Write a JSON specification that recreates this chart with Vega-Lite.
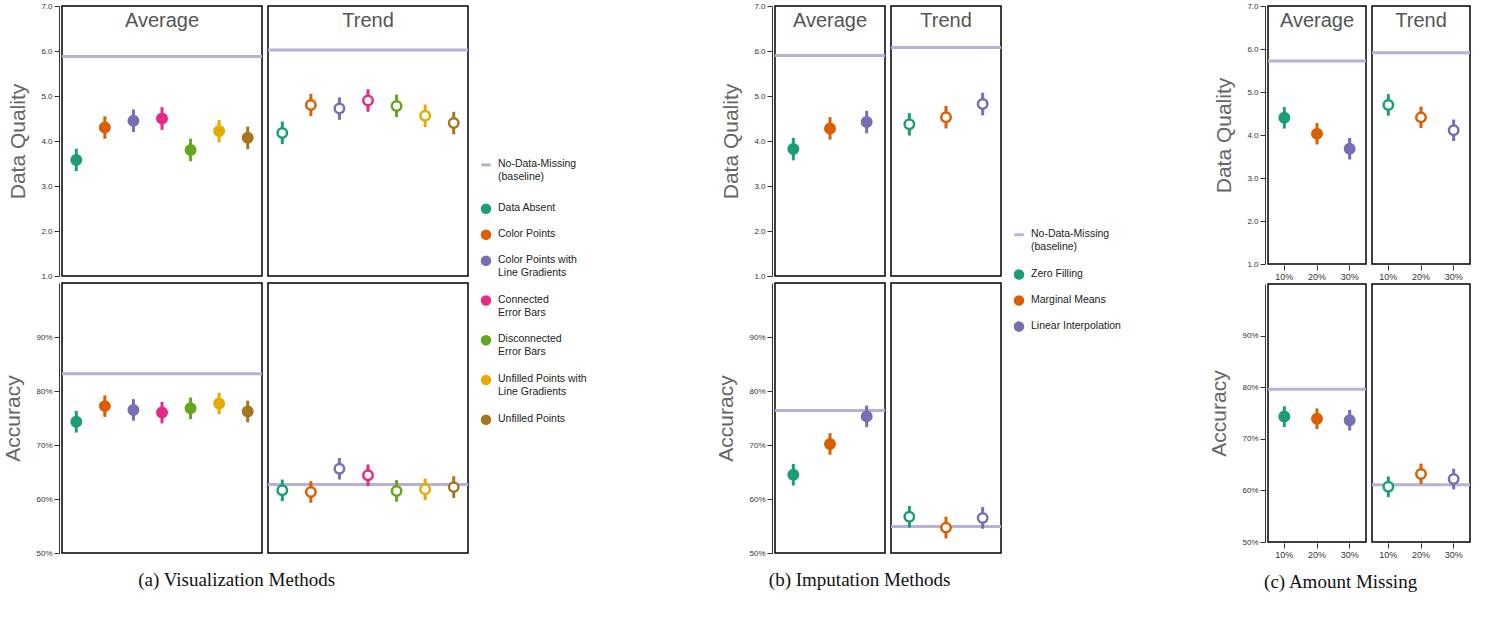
{
  "$schema": "https://vega.github.io/schema/vega-lite/v6.json",
  "padding": {"left": 2, "top": 2, "right": 2, "bottom": 2},
  "config": {
    "font": "Liberation Sans",
    "view": {"stroke": "black", "strokeWidth": 1.5},
    "facet": {"spacing": 0},
    "axis": {"labelFontSize": 8, "labelColor": "#333", "tickColor": "#333", "domainColor": "#333", "grid": false, "titleFontSize": 21, "titleFontWeight": "normal", "titleColor": "#666", "titlePadding": 12},
    "title": {"font": "Liberation Serif", "fontSize": 19, "fontWeight": "normal", "orient": "bottom", "anchor": "middle", "offset": 14, "color": "#111"}
  },
  "datasets": {
    "a": [
      {"metric": "DQ", "panel": "Average", "m": "Data Absent", "v": 3.58, "lo": 3.33, "hi": 3.83, "base": 5.88},
      {"metric": "DQ", "panel": "Average", "m": "Color Points", "v": 4.3, "lo": 4.05, "hi": 4.55, "base": 5.88},
      {"metric": "DQ", "panel": "Average", "m": "Color Points with Line Gradients", "v": 4.45, "lo": 4.2, "hi": 4.7, "base": 5.88},
      {"metric": "DQ", "panel": "Average", "m": "Connected Error Bars", "v": 4.5, "lo": 4.25, "hi": 4.75, "base": 5.88},
      {"metric": "DQ", "panel": "Average", "m": "Disconnected Error Bars", "v": 3.8, "lo": 3.55, "hi": 4.05, "base": 5.88},
      {"metric": "DQ", "panel": "Average", "m": "Unfilled Points with Line Gradients", "v": 4.22, "lo": 3.97, "hi": 4.47, "base": 5.88},
      {"metric": "DQ", "panel": "Average", "m": "Unfilled Points", "v": 4.07, "lo": 3.82, "hi": 4.32, "base": 5.88},
      {"metric": "DQ", "panel": "Trend", "m": "Data Absent", "v": 4.18, "lo": 3.93, "hi": 4.43, "base": 6.02},
      {"metric": "DQ", "panel": "Trend", "m": "Color Points", "v": 4.8, "lo": 4.55, "hi": 5.05, "base": 6.02},
      {"metric": "DQ", "panel": "Trend", "m": "Color Points with Line Gradients", "v": 4.72, "lo": 4.47, "hi": 4.97, "base": 6.02},
      {"metric": "DQ", "panel": "Trend", "m": "Connected Error Bars", "v": 4.9, "lo": 4.65, "hi": 5.15, "base": 6.02},
      {"metric": "DQ", "panel": "Trend", "m": "Disconnected Error Bars", "v": 4.78, "lo": 4.53, "hi": 5.03, "base": 6.02},
      {"metric": "DQ", "panel": "Trend", "m": "Unfilled Points with Line Gradients", "v": 4.56, "lo": 4.31, "hi": 4.81, "base": 6.02},
      {"metric": "DQ", "panel": "Trend", "m": "Unfilled Points", "v": 4.4, "lo": 4.15, "hi": 4.65, "base": 6.02},
      {"metric": "AC", "panel": "Average", "m": "Data Absent", "v": 0.743, "lo": 0.723, "hi": 0.763, "base": 0.832},
      {"metric": "AC", "panel": "Average", "m": "Color Points", "v": 0.772, "lo": 0.752, "hi": 0.792, "base": 0.832},
      {"metric": "AC", "panel": "Average", "m": "Color Points with Line Gradients", "v": 0.765, "lo": 0.745, "hi": 0.785, "base": 0.832},
      {"metric": "AC", "panel": "Average", "m": "Connected Error Bars", "v": 0.76, "lo": 0.74, "hi": 0.78, "base": 0.832},
      {"metric": "AC", "panel": "Average", "m": "Disconnected Error Bars", "v": 0.768, "lo": 0.748, "hi": 0.788, "base": 0.832},
      {"metric": "AC", "panel": "Average", "m": "Unfilled Points with Line Gradients", "v": 0.777, "lo": 0.757, "hi": 0.797, "base": 0.832},
      {"metric": "AC", "panel": "Average", "m": "Unfilled Points", "v": 0.762, "lo": 0.742, "hi": 0.782, "base": 0.832},
      {"metric": "AC", "panel": "Trend", "m": "Data Absent", "v": 0.616, "lo": 0.596, "hi": 0.636, "base": 0.627},
      {"metric": "AC", "panel": "Trend", "m": "Color Points", "v": 0.613, "lo": 0.593, "hi": 0.633, "base": 0.627},
      {"metric": "AC", "panel": "Trend", "m": "Color Points with Line Gradients", "v": 0.656, "lo": 0.636, "hi": 0.676, "base": 0.627},
      {"metric": "AC", "panel": "Trend", "m": "Connected Error Bars", "v": 0.644, "lo": 0.624, "hi": 0.664, "base": 0.627},
      {"metric": "AC", "panel": "Trend", "m": "Disconnected Error Bars", "v": 0.615, "lo": 0.595, "hi": 0.635, "base": 0.627},
      {"metric": "AC", "panel": "Trend", "m": "Unfilled Points with Line Gradients", "v": 0.618, "lo": 0.598, "hi": 0.638, "base": 0.627},
      {"metric": "AC", "panel": "Trend", "m": "Unfilled Points", "v": 0.622, "lo": 0.602, "hi": 0.642, "base": 0.627}
    ],
    "b": [
      {"metric": "DQ", "panel": "Average", "m": "Zero Filling", "v": 3.82, "lo": 3.57, "hi": 4.07, "base": 5.9},
      {"metric": "DQ", "panel": "Average", "m": "Marginal Means", "v": 4.28, "lo": 4.03, "hi": 4.53, "base": 5.9},
      {"metric": "DQ", "panel": "Average", "m": "Linear Interpolation", "v": 4.42, "lo": 4.17, "hi": 4.67, "base": 5.9},
      {"metric": "DQ", "panel": "Trend", "m": "Zero Filling", "v": 4.37, "lo": 4.12, "hi": 4.62, "base": 6.08},
      {"metric": "DQ", "panel": "Trend", "m": "Marginal Means", "v": 4.53, "lo": 4.28, "hi": 4.78, "base": 6.08},
      {"metric": "DQ", "panel": "Trend", "m": "Linear Interpolation", "v": 4.82, "lo": 4.57, "hi": 5.07, "base": 6.08},
      {"metric": "AC", "panel": "Average", "m": "Zero Filling", "v": 0.645, "lo": 0.625, "hi": 0.665, "base": 0.764},
      {"metric": "AC", "panel": "Average", "m": "Marginal Means", "v": 0.702, "lo": 0.682, "hi": 0.722, "base": 0.764},
      {"metric": "AC", "panel": "Average", "m": "Linear Interpolation", "v": 0.753, "lo": 0.733, "hi": 0.773, "base": 0.764},
      {"metric": "AC", "panel": "Trend", "m": "Zero Filling", "v": 0.567, "lo": 0.547, "hi": 0.587, "base": 0.549},
      {"metric": "AC", "panel": "Trend", "m": "Marginal Means", "v": 0.547, "lo": 0.527, "hi": 0.567, "base": 0.549},
      {"metric": "AC", "panel": "Trend", "m": "Linear Interpolation", "v": 0.565, "lo": 0.545, "hi": 0.585, "base": 0.549}
    ],
    "c": [
      {"metric": "DQ", "panel": "Average", "m": "10%", "v": 4.4, "lo": 4.15, "hi": 4.65, "base": 5.72},
      {"metric": "DQ", "panel": "Average", "m": "20%", "v": 4.03, "lo": 3.78, "hi": 4.28, "base": 5.72},
      {"metric": "DQ", "panel": "Average", "m": "30%", "v": 3.68, "lo": 3.43, "hi": 3.93, "base": 5.72},
      {"metric": "DQ", "panel": "Trend", "m": "10%", "v": 4.7, "lo": 4.45, "hi": 4.95, "base": 5.91},
      {"metric": "DQ", "panel": "Trend", "m": "20%", "v": 4.41, "lo": 4.16, "hi": 4.66, "base": 5.91},
      {"metric": "DQ", "panel": "Trend", "m": "30%", "v": 4.11, "lo": 3.86, "hi": 4.36, "base": 5.91},
      {"metric": "AC", "panel": "Average", "m": "10%", "v": 0.743, "lo": 0.723, "hi": 0.763, "base": 0.796},
      {"metric": "AC", "panel": "Average", "m": "20%", "v": 0.739, "lo": 0.719, "hi": 0.759, "base": 0.796},
      {"metric": "AC", "panel": "Average", "m": "30%", "v": 0.736, "lo": 0.716, "hi": 0.756, "base": 0.796},
      {"metric": "AC", "panel": "Trend", "m": "10%", "v": 0.607, "lo": 0.587, "hi": 0.627, "base": 0.611},
      {"metric": "AC", "panel": "Trend", "m": "20%", "v": 0.632, "lo": 0.612, "hi": 0.652, "base": 0.611},
      {"metric": "AC", "panel": "Trend", "m": "30%", "v": 0.622, "lo": 0.602, "hi": 0.642, "base": 0.611}
    ],
    "la": [
      {"kind": "base", "label": "No-Data-Missing\n(baseline)", "pos": 5.8},
      {"kind": "pt", "label": "Data Absent", "pos": 7.4},
      {"kind": "pt", "label": "Color Points", "pos": 8.35},
      {"kind": "pt", "label": "Color Points with\nLine Gradients", "pos": 9.3},
      {"kind": "pt", "label": "Connected\nError Bars", "pos": 10.75},
      {"kind": "pt", "label": "Disconnected\nError Bars", "pos": 12.2},
      {"kind": "pt", "label": "Unfilled Points with\nLine Gradients", "pos": 13.65},
      {"kind": "pt", "label": "Unfilled Points", "pos": 15.1}
    ],
    "lb": [
      {"kind": "base", "label": "No-Data-Missing\n(baseline)", "pos": 8.35},
      {"kind": "pt", "label": "Zero Filling", "pos": 9.8},
      {"kind": "pt", "label": "Marginal Means", "pos": 10.75},
      {"kind": "pt", "label": "Linear Interpolation", "pos": 11.7}
    ]
  },
  "hconcat": [
    {
      "title": "(a)  Visualization Methods",
      "vconcat": [
        {
          "data": {"name": "a"},
          "transform": [{"filter": "datum.metric === 'DQ'"}],
          "facet": {"column": {"field": "panel", "type": "nominal", "sort": ["Average", "Trend"], "title": null, "header": {"labelFontSize": 20, "labelColor": "#555", "labelPadding": -26}}},
          "spacing": {"column": 0, "row": 0},
          "spec": {
            "width": 200, "height": 270,
            "layer": [
              {"mark": {"type": "rule", "color": "#b8b0d8", "strokeWidth": 3}, "encoding": {"y": {"aggregate": "mean", "field": "base", "type": "quantitative", "title": "Data Quality", "scale": {"domain": [1, 7]}, "axis": {"values": [1, 2, 3, 4, 5, 6, 7], "format": ".1f"}}}},
              {"mark": {"type": "rule", "strokeWidth": 3}, "encoding": {"x": {"field": "m", "type": "nominal", "sort": null, "axis": null}, "y": {"field": "lo", "type": "quantitative", "title": "Data Quality"}, "y2": {"field": "hi"}, "color": {"field": "m", "type": "nominal", "sort": null, "scale": {"domain": ["Data Absent", "Color Points", "Color Points with Line Gradients", "Connected Error Bars", "Disconnected Error Bars", "Unfilled Points with Line Gradients", "Unfilled Points"], "range": ["#1b9e77", "#d95f02", "#7570b3", "#e7298a", "#66a61e", "#e6ab02", "#a6761d"]}, "legend": null}}},
              {"mark": {"type": "point", "shape": "circle", "size": 90, "strokeWidth": 2.5, "opacity": 1}, "encoding": {"x": {"field": "m", "type": "nominal", "sort": null, "axis": null}, "y": {"field": "v", "type": "quantitative", "title": "Data Quality"}, "color": {"field": "m", "type": "nominal", "legend": null}, "fill": {"condition": {"test": "datum.panel === 'Trend'", "value": "white"}, "field": "m", "type": "nominal", "scale": {"domain": ["Data Absent", "Color Points", "Color Points with Line Gradients", "Connected Error Bars", "Disconnected Error Bars", "Unfilled Points with Line Gradients", "Unfilled Points"], "range": ["#1b9e77", "#d95f02", "#7570b3", "#e7298a", "#66a61e", "#e6ab02", "#a6761d"]}, "legend": null}}}
            ]
          }
        },
        {
          "data": {"name": "a"},
          "transform": [{"filter": "datum.metric === 'AC'"}],
          "facet": {"column": {"field": "panel", "type": "nominal", "sort": ["Average", "Trend"], "title": null, "header": {"labels": false}}},
          "spacing": {"column": 0, "row": 0},
          "spec": {
            "width": 200, "height": 270,
            "layer": [
              {"mark": {"type": "rule", "color": "#b8b0d8", "strokeWidth": 3}, "encoding": {"y": {"aggregate": "mean", "field": "base", "type": "quantitative", "title": "Accuracy", "scale": {"domain": [0.5, 1]}, "axis": {"values": [0.5, 0.6, 0.7, 0.8, 0.9], "format": ".0%"}}}},
              {"mark": {"type": "rule", "strokeWidth": 3}, "encoding": {"x": {"field": "m", "type": "nominal", "sort": null, "axis": null}, "y": {"field": "lo", "type": "quantitative", "title": "Accuracy"}, "y2": {"field": "hi"}, "color": {"field": "m", "type": "nominal", "sort": null, "legend": null}}},
              {"mark": {"type": "point", "shape": "circle", "size": 90, "strokeWidth": 2.5, "opacity": 1}, "encoding": {"x": {"field": "m", "type": "nominal", "sort": null, "axis": null}, "y": {"field": "v", "type": "quantitative", "title": "Accuracy"}, "color": {"field": "m", "type": "nominal", "legend": null}, "fill": {"condition": {"test": "datum.panel === 'Trend'", "value": "white"}, "field": "m", "type": "nominal", "legend": null}}}
            ]
          }
        }
      ],
      "spacing": 2
    },
    {
      "data": {"name": "la"},
      "width": 225, "height": 548,
      "view": {"stroke": null},
      "encoding": {
        "x": {"datum": 0, "type": "quantitative", "scale": {"domain": [0, 10]}, "axis": null},
        "y": {"field": "pos", "type": "quantitative", "scale": {"domain": [0, 20], "reverse": true}, "axis": null}
      },
      "layer": [
        {"transform": [{"filter": "datum.kind === 'pt'"}], "mark": {"type": "point", "shape": "circle", "filled": true, "size": 110, "opacity": 1}, "encoding": {"color": {"field": "label", "type": "nominal", "sort": null, "scale": {"range": ["#1b9e77", "#d95f02", "#7570b3", "#e7298a", "#66a61e", "#e6ab02", "#a6761d"]}, "legend": null}}},
        {"transform": [{"filter": "datum.kind === 'base'"}], "mark": {"type": "point", "shape": "M-1,0L1,0", "filled": false, "size": 90, "stroke": "#b8b0d8", "strokeWidth": 3, "opacity": 1}},
        {"mark": {"type": "text", "align": "left", "baseline": "top", "dx": 12, "dy": -6, "fontSize": 10.5, "lineBreak": "\n", "lineHeight": 13, "color": "#222"}, "encoding": {"text": {"field": "label"}}}
      ]
    },
    {
      "title": "(b)  Imputation Methods",
      "vconcat": [
        {
          "data": {"name": "b"},
          "transform": [{"filter": "datum.metric === 'DQ'"}],
          "facet": {"column": {"field": "panel", "type": "nominal", "sort": ["Average", "Trend"], "title": null, "header": {"labelFontSize": 20, "labelColor": "#555", "labelPadding": -26}}},
          "spacing": {"column": 0, "row": 0},
          "spec": {
            "width": 110, "height": 270,
            "layer": [
              {"mark": {"type": "rule", "color": "#b8b0d8", "strokeWidth": 3}, "encoding": {"y": {"aggregate": "mean", "field": "base", "type": "quantitative", "title": "Data Quality", "scale": {"domain": [1, 7]}, "axis": {"values": [1, 2, 3, 4, 5, 6, 7], "format": ".1f"}}}},
              {"mark": {"type": "rule", "strokeWidth": 3}, "encoding": {"x": {"field": "m", "type": "nominal", "sort": null, "axis": null}, "y": {"field": "lo", "type": "quantitative", "title": "Data Quality"}, "y2": {"field": "hi"}, "color": {"field": "m", "type": "nominal", "sort": null, "scale": {"domain": ["Zero Filling", "Marginal Means", "Linear Interpolation"], "range": ["#1b9e77", "#d95f02", "#7570b3"]}, "legend": null}}},
              {"mark": {"type": "point", "shape": "circle", "size": 90, "strokeWidth": 2.5, "opacity": 1}, "encoding": {"x": {"field": "m", "type": "nominal", "sort": null, "axis": null}, "y": {"field": "v", "type": "quantitative", "title": "Data Quality"}, "color": {"field": "m", "type": "nominal", "legend": null}, "fill": {"condition": {"test": "datum.panel === 'Trend'", "value": "white"}, "field": "m", "type": "nominal", "scale": {"domain": ["Zero Filling", "Marginal Means", "Linear Interpolation"], "range": ["#1b9e77", "#d95f02", "#7570b3"]}, "legend": null}}}
            ]
          }
        },
        {
          "data": {"name": "b"},
          "transform": [{"filter": "datum.metric === 'AC'"}],
          "facet": {"column": {"field": "panel", "type": "nominal", "sort": ["Average", "Trend"], "title": null, "header": {"labels": false}}},
          "spacing": {"column": 0, "row": 0},
          "spec": {
            "width": 110, "height": 270,
            "layer": [
              {"mark": {"type": "rule", "color": "#b8b0d8", "strokeWidth": 3}, "encoding": {"y": {"aggregate": "mean", "field": "base", "type": "quantitative", "title": "Accuracy", "scale": {"domain": [0.5, 1]}, "axis": {"values": [0.5, 0.6, 0.7, 0.8, 0.9], "format": ".0%"}}}},
              {"mark": {"type": "rule", "strokeWidth": 3}, "encoding": {"x": {"field": "m", "type": "nominal", "sort": null, "axis": null}, "y": {"field": "lo", "type": "quantitative", "title": "Accuracy"}, "y2": {"field": "hi"}, "color": {"field": "m", "type": "nominal", "sort": null, "legend": null}}},
              {"mark": {"type": "point", "shape": "circle", "size": 90, "strokeWidth": 2.5, "opacity": 1}, "encoding": {"x": {"field": "m", "type": "nominal", "sort": null, "axis": null}, "y": {"field": "v", "type": "quantitative", "title": "Accuracy"}, "color": {"field": "m", "type": "nominal", "legend": null}, "fill": {"condition": {"test": "datum.panel === 'Trend'", "value": "white"}, "field": "m", "type": "nominal", "legend": null}}}
            ]
          }
        }
      ],
      "spacing": 2
    },
    {
      "data": {"name": "lb"},
      "width": 185, "height": 548,
      "view": {"stroke": null},
      "encoding": {
        "x": {"datum": 0, "type": "quantitative", "scale": {"domain": [0, 10]}, "axis": null},
        "y": {"field": "pos", "type": "quantitative", "scale": {"domain": [0, 20], "reverse": true}, "axis": null}
      },
      "layer": [
        {"transform": [{"filter": "datum.kind === 'pt'"}], "mark": {"type": "point", "shape": "circle", "filled": true, "size": 110, "opacity": 1}, "encoding": {"color": {"field": "label", "type": "nominal", "sort": null, "scale": {"range": ["#1b9e77", "#d95f02", "#7570b3"]}, "legend": null}}},
        {"transform": [{"filter": "datum.kind === 'base'"}], "mark": {"type": "point", "shape": "M-1,0L1,0", "filled": false, "size": 90, "stroke": "#b8b0d8", "strokeWidth": 3, "opacity": 1}},
        {"mark": {"type": "text", "align": "left", "baseline": "top", "dx": 12, "dy": -6, "fontSize": 10.5, "lineBreak": "\n", "lineHeight": 13, "color": "#222"}, "encoding": {"text": {"field": "label"}}}
      ]
    },
    {
      "title": "(c)  Amount Missing",
      "vconcat": [
        {
          "data": {"name": "c"},
          "transform": [{"filter": "datum.metric === 'DQ'"}],
          "facet": {"column": {"field": "panel", "type": "nominal", "sort": ["Average", "Trend"], "title": null, "header": {"labelFontSize": 20, "labelColor": "#555", "labelPadding": -26}}},
          "spacing": {"column": 0, "row": 0},
          "spec": {
            "width": 98, "height": 258,
            "layer": [
              {"mark": {"type": "rule", "color": "#b8b0d8", "strokeWidth": 3}, "encoding": {"y": {"aggregate": "mean", "field": "base", "type": "quantitative", "title": "Data Quality", "scale": {"domain": [1, 7]}, "axis": {"values": [1, 2, 3, 4, 5, 6, 7], "format": ".1f"}}}},
              {"mark": {"type": "rule", "strokeWidth": 3}, "encoding": {"x": {"field": "m", "type": "nominal", "sort": null, "title": null, "axis": {"labelAngle": 0, "domain": false, "labelFontSize": 9}}, "y": {"field": "lo", "type": "quantitative", "title": "Data Quality"}, "y2": {"field": "hi"}, "color": {"field": "m", "type": "nominal", "sort": null, "scale": {"domain": ["10%", "20%", "30%"], "range": ["#1b9e77", "#d95f02", "#7570b3"]}, "legend": null}}},
              {"mark": {"type": "point", "shape": "circle", "size": 90, "strokeWidth": 2.5, "opacity": 1}, "encoding": {"x": {"field": "m", "type": "nominal", "sort": null, "title": null}, "y": {"field": "v", "type": "quantitative", "title": "Data Quality"}, "color": {"field": "m", "type": "nominal", "legend": null}, "fill": {"condition": {"test": "datum.panel === 'Trend'", "value": "white"}, "field": "m", "type": "nominal", "scale": {"domain": ["10%", "20%", "30%"], "range": ["#1b9e77", "#d95f02", "#7570b3"]}, "legend": null}}}
            ]
          }
        },
        {
          "data": {"name": "c"},
          "transform": [{"filter": "datum.metric === 'AC'"}],
          "facet": {"column": {"field": "panel", "type": "nominal", "sort": ["Average", "Trend"], "title": null, "header": {"labels": false}}},
          "spacing": {"column": 0, "row": 0},
          "spec": {
            "width": 98, "height": 258,
            "layer": [
              {"mark": {"type": "rule", "color": "#b8b0d8", "strokeWidth": 3}, "encoding": {"y": {"aggregate": "mean", "field": "base", "type": "quantitative", "title": "Accuracy", "scale": {"domain": [0.5, 1]}, "axis": {"values": [0.5, 0.6, 0.7, 0.8, 0.9], "format": ".0%"}}}},
              {"mark": {"type": "rule", "strokeWidth": 3}, "encoding": {"x": {"field": "m", "type": "nominal", "sort": null, "title": null, "axis": {"labelAngle": 0, "domain": false, "labelFontSize": 9}}, "y": {"field": "lo", "type": "quantitative", "title": "Accuracy"}, "y2": {"field": "hi"}, "color": {"field": "m", "type": "nominal", "sort": null, "legend": null}}},
              {"mark": {"type": "point", "shape": "circle", "size": 90, "strokeWidth": 2.5, "opacity": 1}, "encoding": {"x": {"field": "m", "type": "nominal", "sort": null, "title": null}, "y": {"field": "v", "type": "quantitative", "title": "Accuracy"}, "color": {"field": "m", "type": "nominal", "legend": null}, "fill": {"condition": {"test": "datum.panel === 'Trend'", "value": "white"}, "field": "m", "type": "nominal", "legend": null}}}
            ]
          }
        }
      ],
      "spacing": 2
    }
  ],
  "spacing": 4,
  "resolve": {"scale": {"color": "independent", "fill": "independent", "x": "independent", "y": "independent"}}
}
